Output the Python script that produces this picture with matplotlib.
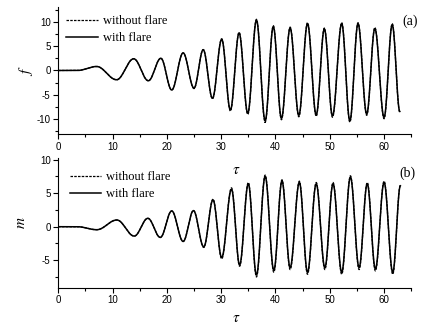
import numpy as np
import matplotlib
matplotlib.use('Agg')
import matplotlib.pyplot as plt
from matplotlib.ticker import MultipleLocator

plt.rcParams['axes.unicode_minus'] = False
plt.rcParams['mathtext.fontset'] = 'stix'

# extrema of f(tau)
f_tau = [0, 3.5, 7.07, 10.75, 13.9, 16.6, 18.9, 20.9, 23.0, 25.0, 26.7, 28.4,
         30.1, 31.7, 33.3, 34.9, 36.5, 38.1, 39.6, 41.1, 42.7, 44.3, 45.9,
         47.5, 49.0, 50.5, 52.2, 53.7, 55.2, 56.8, 58.3, 60.0, 61.5, 62.9]
f_with = [0, 0, 0.82, -1.9, 2.4, -2.1, 2.5, -4.0, 3.6, -3.6, 4.25, -5.7,
          6.4, -8.1, 7.7, -8.75, 10.3, -10.3, 9.0, -9.8, 8.7, -9.2, 9.6,
          -9.1, 8.5, -9.3, 9.6, -10.3, 9.6, -8.9, 8.6, -9.6, 9.4, -8.4]
f_without = [0, 0, 0.82, -1.9, 2.4, -2.1, 2.5, -4.0, 3.6, -3.7, 4.3, -5.8,
             6.5, -8.3, 7.8, -9.0, 10.5, -10.6, 9.2, -10.1, 8.9, -9.5, 9.8,
             -9.4, 8.7, -9.6, 9.8, -10.6, 9.8, -9.2, 8.8, -9.9, 9.6, -8.6]

# extrema of m(tau)
m_tau = [0, 3.5, 7.1, 10.8, 14.0, 16.5, 18.8, 20.9, 23.0, 24.9, 26.8, 28.5,
         30.1, 31.9, 33.4, 35.0, 36.5, 38.1, 39.7, 41.2, 42.7, 44.4, 45.9,
         47.5, 49.1, 50.6, 52.2, 53.8, 55.4, 56.9, 58.4, 60.0, 61.6, 63.0]
m_with = [0, 0, -0.45, 1.0, -1.4, 1.25, -1.6, 2.35, -2.2, 2.4, -3.0, 4.0,
          -4.6, 5.6, -5.7, 6.4, -7.2, 7.5, -6.5, 6.8, -6.1, 6.6, -6.8,
          6.4, -6.1, 6.4, -6.8, 7.4, -6.1, 6.4, -6.3, 6.6, -6.8, 6.1]
m_without = [0, 0, -0.45, 1.0, -1.4, 1.25, -1.6, 2.35, -2.2, 2.4, -3.1, 4.1,
             -4.8, 5.8, -5.9, 6.6, -7.5, 7.7, -6.8, 7.0, -6.4, 6.8, -7.1,
             6.6, -6.4, 6.6, -7.1, 7.6, -6.4, 6.6, -6.6, 6.8, -7.1, 6.2]


def wave(tk, vk, n=30):
    # smooth half-cosine arcs between consecutive extrema
    ts, vs = [], []
    for i in range(len(tk) - 1):
        s = np.linspace(0, 1, n)
        ts.append(tk[i] + (tk[i + 1] - tk[i]) * s)
        vs.append(vk[i] + (vk[i + 1] - vk[i]) * (1 - np.cos(np.pi * s)) / 2)
    return np.concatenate(ts), np.concatenate(vs)


fig = plt.figure(figsize=(4.22, 3.29), dpi=100)
ax1 = fig.add_axes([0.138, 0.593, 0.8365, 0.387])
ax2 = fig.add_axes([0.138, 0.1255, 0.8365, 0.3933])

# ax, knots, dashed, solid, ylim, ylabel, ylabel x, tag, tag pos, legend anchor, tau label y (px)
panels = [(ax1, f_tau, f_without, f_with, (-13, 13.1), '$f$', -0.067, '(a)', (1.018, 0.882), (0.023, 0.93), 169),
          (ax2, m_tau, m_without, m_with, (-9.1, 10.2), '$m$', -0.087, '(b)', (1.012, 0.886), (0.033, 0.90), 318)]

for ax, tk, v0, v1, ylim, ylab, ylx, tag, tagpos, anchor, tau_y in panels:
    t, y = wave(tk, v0)
    ax.plot(t, y, color='black', lw=0.9, ls=(0, (2, 1)), label='without flare')
    t, y = wave(tk, v1)
    ax.plot(t, y, color='black', lw=1.1, label='with flare')
    ax.set_xlim(0, 65)
    ax.set_ylim(*ylim)
    ax.spines['top'].set_visible(False)
    ax.spines['right'].set_visible(False)
    ax.set_xticks([0, 10, 20, 30, 40, 50, 60])
    ax.xaxis.set_minor_locator(MultipleLocator(5))
    ax.yaxis.set_major_locator(MultipleLocator(5))
    ax.yaxis.set_minor_locator(MultipleLocator(2.5))
    ax.tick_params(which='major', length=3.5, width=0.8, labelsize=7, pad=2)
    ax.tick_params(which='minor', length=2, width=0.8)
    for lbl in ax.get_xticklabels() + ax.get_yticklabels():
        lbl.set_family('Liberation Sans')
    ax.set_ylabel(ylab, fontsize=11)
    ax.yaxis.set_label_coords(ylx, 0.5)
    ax.text(tagpos[0], tagpos[1], tag, transform=ax.transAxes, ha='right', va='center',
            family='Liberation Serif', fontsize=10)
    ax.legend(loc='upper left', bbox_to_anchor=anchor, frameon=False,
              prop={'family': 'Liberation Serif', 'size': 9},
              handlelength=2.5, handletextpad=0.4, labelspacing=0.4,
              borderpad=0, borderaxespad=0)
    fig.text(236 / 422, 1 - tau_y / 329, r'$\tau$', ha='center', va='center', fontsize=11)

fig.savefig('out.png', dpi=100)
